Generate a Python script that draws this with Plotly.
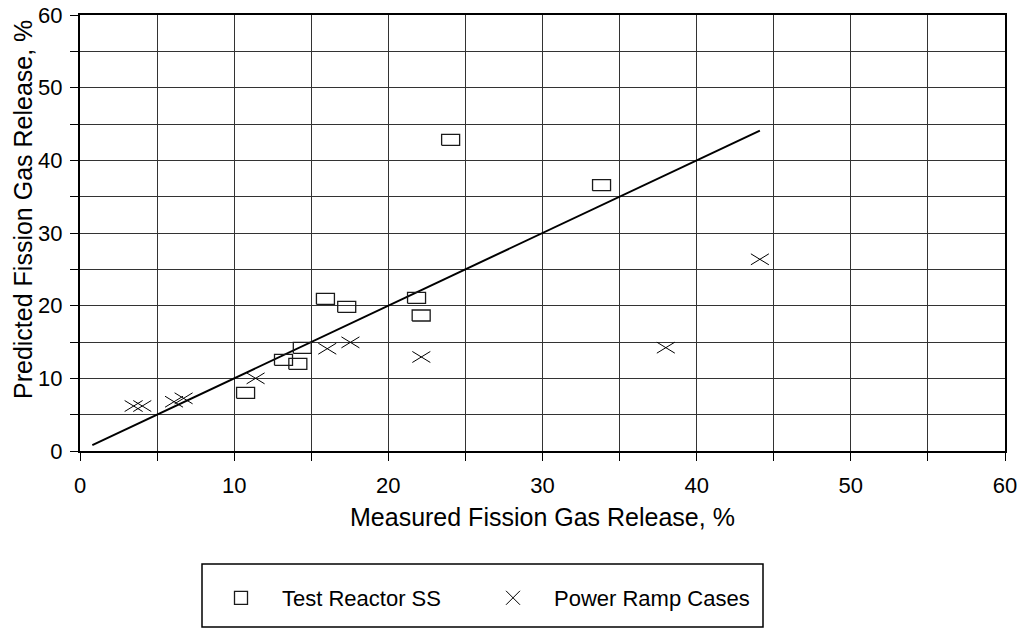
import plotly.graph_objects as go

# ---------------- data ----------------
test_x = [10.74, 13.20, 14.13, 14.42, 15.92, 17.30, 21.83, 22.13, 24.04, 33.83]
test_y = [8.00, 12.55, 12.00, 14.20, 20.94, 19.84, 21.08, 18.65, 42.82, 36.58]

ramp_x = [3.48, 4.04, 6.10, 6.72, 11.39, 16.04, 17.54, 22.14, 38.00, 44.10]
ramp_y = [6.19, 6.19, 6.78, 7.25, 10.00, 14.08, 14.95, 12.94, 14.22, 26.38]

fit_x = [0.8, 44.1]
fit_y = [0.8, 44.1]

tick_vals = [0, 10, 20, 30, 40, 50, 60]
tick_text = ["0", "10", "20", "30", "40", "50", "60"]

series_names = ["Test Reactor SS", "Power Ramp Cases"]
x_title = "Measured Fission Gas Release, %"
y_title = "Predicted Fission Gas Release, %"

# ---------------- geometry ----------------
W, H = 1021, 629
ML, MR, MT, MB = 80, 16, 15, 178
X_RANGE = [0, 60]
Y_RANGE = [0, 60]
PLOT_W = W - ML - MR
PLOT_H = H - MT - MB
UX = PLOT_W / (X_RANGE[1] - X_RANGE[0])   # px per data unit
UY = PLOT_H / (Y_RANGE[1] - Y_RANGE[0])

FONT = "Liberation Sans, Arial, sans-serif"


def rect_path(xs, ys, half_w_px, half_h_px):
    hx, hy = half_w_px / UX, half_h_px / UY
    px, py = [], []
    for x, y in zip(xs, ys):
        px += [x - hx, x + hx, x + hx, x - hx, x - hx, None]
        py += [y - hy, y - hy, y + hy, y + hy, y - hy, None]
    return px, py


def cross_path(xs, ys, half_w_px, half_h_px):
    hx, hy = half_w_px / UX, half_h_px / UY
    px, py = [], []
    for x, y in zip(xs, ys):
        px += [x - hx, x + hx, None, x - hx, x + hx, None]
        py += [y - hy, y + hy, None, y + hy, y - hy, None]
    return px, py


def paper_x(px):
    return (px - ML) / PLOT_W


def paper_y(py):
    return (H - MB - py) / PLOT_H


fig = go.Figure()

# fit line
fig.add_trace(go.Scatter(x=fit_x, y=fit_y, mode="lines",
                         line=dict(color="black", width=2),
                         showlegend=False, hoverinfo="skip"))

# test reactor rectangles
rx, ry = rect_path(test_x, test_y, 9, 5.5)
fig.add_trace(go.Scatter(x=rx, y=ry, mode="lines",
                         line=dict(color="#1a1a1a", width=1.3),
                         showlegend=False, hoverinfo="skip"))

# power ramp crosses
cx, cy = cross_path(ramp_x, ramp_y, 9, 5.5)
fig.add_trace(go.Scatter(x=cx, y=cy, mode="lines",
                         line=dict(color="black", width=1),
                         showlegend=False, hoverinfo="skip"))

# legend entries (one legend each, so they can be placed independently)
fig.add_trace(go.Scatter(x=[None], y=[None], mode="markers", name=series_names[0],
                         legend="legend",
                         marker=dict(symbol="square-open", size=13, color="#1a1a1a",
                                     line=dict(width=1.3))))
fig.add_trace(go.Scatter(x=[None], y=[None], mode="markers", name=series_names[1],
                         legend="legend2",
                         marker=dict(symbol="x-thin-open", size=14, color="black",
                                     line=dict(width=1, color="black"))))

GRID = "#333333"
axis_common = dict(
    range=X_RANGE,
    tickmode="array",
    tickvals=tick_vals,
    ticktext=tick_text,
    ticks="outside",
    ticklen=8,
    tickwidth=1,
    tickcolor="black",
    showgrid=True,
    gridcolor=GRID,
    gridwidth=1,
    minor=dict(dtick=5, showgrid=True, gridcolor=GRID, gridwidth=1,
               ticks="outside", ticklen=8, tickcolor="black", tickwidth=1),
    showline=True,
    linecolor="black",
    linewidth=2,
    mirror=True,
    zeroline=False,
    automargin=False,
    tickfont=dict(family=FONT, size=22, color="black"),
    fixedrange=True,
)

fig.update_xaxes(**axis_common, ticklabelstandoff=6)
fig.update_yaxes(**{**axis_common, "range": Y_RANGE}, ticklabelstandoff=3)

legend_common = dict(
    orientation="h",
    xanchor="left",
    y=paper_y(598), yanchor="middle",
    bgcolor="rgba(0,0,0,0)",
    borderwidth=0,
    font=dict(family=FONT, size=22, color="black"),
    itemwidth=72,
    itemclick=False, itemdoubleclick=False,
)

fig.update_layout(
    width=W, height=H,
    margin=dict(l=ML, r=MR, t=MT, b=MB, pad=0, autoexpand=False),
    paper_bgcolor="white",
    plot_bgcolor="white",
    font=dict(family=FONT, size=22, color="black"),
    showlegend=True,
    legend=dict(**legend_common, x=paper_x(200)),
    legend2=dict(**legend_common, x=paper_x(472)),
    annotations=[
        dict(text=x_title, xref="paper", yref="paper", x=0.5, y=0,
             xanchor="center", yanchor="middle", yshift=-66, showarrow=False,
             font=dict(family=FONT, size=25, color="black")),
        dict(text=y_title, xref="paper", yref="paper", x=0, y=paper_y(210),
             xanchor="center", yanchor="middle", xshift=23 - ML, textangle=-90,
             showarrow=False, font=dict(family=FONT, size=25, color="black")),
    ],
    shapes=[
        dict(type="rect", xref="paper", yref="paper",
             x0=paper_x(202), x1=paper_x(763), y0=paper_y(564), y1=paper_y(627),
             line=dict(color="black", width=1.5), fillcolor="rgba(0,0,0,0)"),
    ],
)

fig.write_html("out.html", config={"displayModeBar": False})
